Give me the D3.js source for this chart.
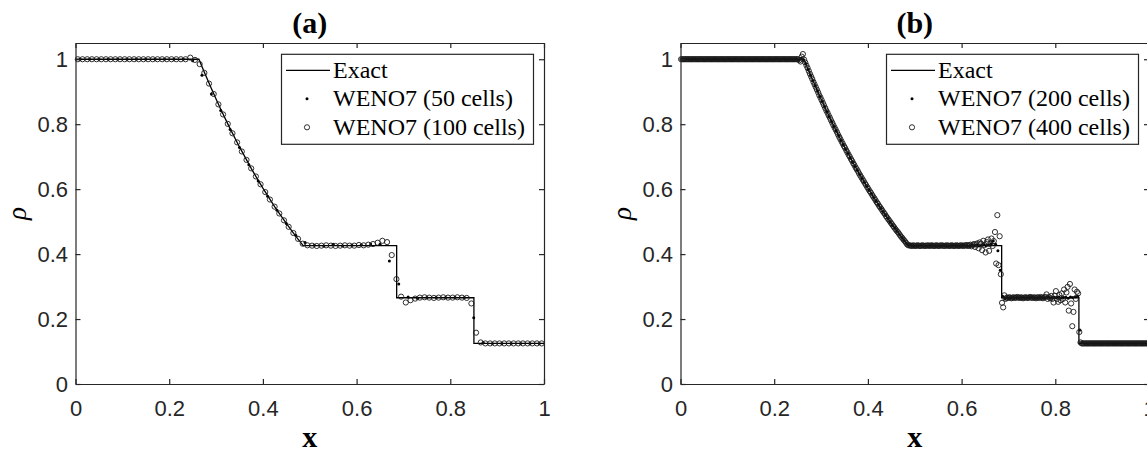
<!DOCTYPE html>
<html>
<head>
<meta charset="utf-8">
<script src="https://cdn.jsdelivr.net/npm/d3@7"></script>
<style>
  body { margin: 0; background: #fff; overflow: hidden; }
  svg { display: block; }
</style>
</head>
<body>
<svg width="1147" height="453"></svg>
<script>
// tick values
var xTicks = [0, 0.2, 0.4, 0.6, 0.8, 1];
var yTicks = [0, 0.2, 0.4, 0.6, 0.8, 1];

// exact solution (x, rho)
var exactX   = [0, 0.2634, 0.275, 0.29, 0.30, 0.31, 0.325, 0.33, 0.35, 0.375, 0.39, 0.40, 0.425, 0.43, 0.45, 0.47, 0.486, 0.6855, 0.6855, 0.8504, 0.8504, 1];
var exactRho = [1, 1, 0.9597, 0.9097, 0.8775, 0.8462, 0.8010, 0.7864, 0.7300, 0.6640, 0.6269, 0.6030, 0.5464, 0.5357, 0.4943, 0.4555, 0.4263, 0.4263, 0.2656, 0.2656, 0.125, 0.125];

// WENO7, 50 cells (cell centres)
var rho50 = [
  1,1,1,1,1,1,1,1,1,1,1,1,
  0.995,0.951,0.893,0.842,0.784,0.728,0.675,0.625,0.578,0.535,0.494,0.458,0.436,
  0.427,0.425,0.430,0.426,0.427,0.429,0.431,0.430,
  0.379,0.308,0.268,0.263,
  0.266,0.266,0.266,0.266,0.266,
  0.204,0.128,
  0.125,0.125,0.125,0.125,0.125,0.125
];

// WENO7, 100 cells
var rho100 = [
  1,1,1,1,1,1,1,1,1,1,1,1,1,1,1,1,1,1,1,1,1,1,1,1,
  1.005,0.998,0.985,0.958,0.925,0.893,0.861,0.830,0.801,0.772,0.744,0.716,0.690,
  0.664,0.639,0.615,0.591,0.568,0.546,0.525,0.504,0.484,0.465,0.447,0.432,0.427,
  0.426,0.425,0.426,0.427,0.426,0.425,0.426,0.427,0.426,0.426,0.428,0.427,0.429,0.431,
  0.435,0.441,0.437,0.397,0.323,0.269,0.251,0.258,0.263,
  0.266,0.267,0.266,0.265,0.266,0.267,0.266,0.266,0.267,0.266,0.265,
  0.248,0.158,0.128,
  0.125,0.125,0.125,0.125,0.125,0.125,0.125,0.125,0.125,0.125,0.125,0.125,0.125
];

// WENO7, 200 cells
var rho200 = [
  1,1,1,1,1,1,1,1,1,1,1,1,1,1,1,1,1,1,1,1,1,1,1,1,1,1,
  1,1,1,1,1,1,1,1,1,1,1,1,1,1,1,1,1,1,1,1,1,1,1,1,0.998,1.003,
  0.998,0.986,0.968,0.951,0.934,0.918,0.902,0.885,0.870,0.854,0.838,0.823,0.808,0.793,0.779,0.765,
  0.750,0.737,0.723,0.710,0.696,0.683,0.670,0.658,0.645,0.633,0.621,0.609,0.597,0.586,0.574,0.563,
  0.552,0.541,0.531,0.520,0.510,0.499,0.489,0.480,0.470,0.460,0.451,0.442,0.433,0.428,0.427,
  0.426,0.425,0.426,0.427,0.426,0.426,0.425,0.426,0.427,0.426,0.425,0.426,0.426,0.427,0.426,0.425,
  0.426,0.427,0.426,0.425,0.426,0.427,0.426,0.426,0.425,0.427,0.426,0.428,0.425,0.427,0.429,0.426,
  0.428,0.432,0.440,0.430,0.410,0.350,0.270,0.262,
  0.266,0.265,0.267,0.266,0.266,0.265,0.267,0.266,0.265,0.266,0.267,0.266,0.265,0.266,0.267,
  0.266,0.265,0.267,0.266,0.264,0.267,0.266,0.268,0.265,0.266,0.267,0.264,0.268,0.266,0.269,
  0.270,0.166,0.127,
  0.125,0.125,0.125,0.125,0.125,0.125,0.125,0.125,0.125,0.125,0.125,0.125,0.125,0.125,
  0.125,0.125,0.125,0.125,0.125,0.125,0.125,0.125,0.125,0.125,0.125,0.125,0.125,0.125
];

// WENO7, 400 cells
var rho400 = [
  1,1,1,1,1,1,1,1,1,1, 1,1,1,1,1,1,1,1,1,1, 1,1,1,1,1,1,1,1,1,1, 1,1,1,1,1,1,1,1,1,1,
  1,1,1,1,1,1,1,1,1,1, 1,1,1,1,1,1,1,1,1,1, 1,1,1,1,1,1,1,1,1,1, 1,1,1,1,1,1,1,1,1,1,
  1,1,1,1,1,1,1,1,1,1, 1,1,1,1,1,1,1,1,1,1,
  1,0.997,0.993,1.008,1.016,
  0.999,0.990,0.981,0.973,0.964,0.955,0.947,0.939,0.930,0.922,
  0.914,0.906,0.898,0.889,0.882,0.874,0.866,0.858,0.850,0.842,
  0.835,0.827,0.820,0.812,0.805,0.797,0.790,0.783,0.776,0.768,
  0.761,0.754,0.747,0.740,0.733,0.727,0.720,0.713,0.706,0.700,
  0.693,0.687,0.680,0.674,0.667,0.661,0.655,0.648,0.642,0.636,
  0.630,0.624,0.618,0.612,0.606,0.600,0.594,0.589,0.583,0.577,
  0.572,0.566,0.560,0.555,0.549,0.544,0.539,0.533,0.528,0.523,
  0.517,0.512,0.507,0.502,0.497,0.492,0.487,0.482,0.477,0.472,
  0.468,0.463,0.458,0.453,0.449,0.444,0.440,0.435,0.430,0.427,0.427,
  0.426,0.425,0.427,0.426,0.425,0.426,0.427,0.426,0.425,0.426,
  0.427,0.426,0.425,0.426,0.426,0.427,0.425,0.426,0.427,0.426,
  0.425,0.426,0.427,0.426,0.425,0.426,0.427,0.426,0.426,0.425,
  0.426,0.427,0.426,0.425,0.426,0.427,0.426,0.425,0.426,0.427,
  0.426,0.425,0.426,0.427,0.426,0.425,0.427,0.426,0.428,0.425,
  0.427,0.429,0.424,0.428,0.431,0.422,0.430,0.433,0.418,0.436,
  0.432,0.412,0.441,0.428,0.405,0.437,0.445,0.410,0.432,0.448,0.425,
  0.440,0.468,0.371,0.520,0.366,0.455,0.338,0.250,0.236,0.273,
  0.262,
  0.266,0.265,0.267,0.266,0.264,0.266,0.267,0.265,0.266,0.268,
  0.266,0.265,0.267,0.266,0.264,0.266,0.267,0.266,0.265,0.266,
  0.268,0.266,0.265,0.267,0.266,0.264,0.267,0.266,0.265,0.268,
  0.266,0.264,0.267,
  0.268,0.276,0.262,0.268,0.264,0.271,0.262,0.251,0.272,0.286,
  0.262,0.253,0.274,0.258,0.279,0.262,0.291,0.251,0.282,0.299,
  0.226,0.308,0.248,0.178,0.222,0.291,0.262,0.284,0.279,0.160,0.128,
  0.125,0.125,0.125,0.125,0.125,0.125,0.125,0.125,0.125,0.125,
  0.125,0.125,0.125,0.125,0.125,0.125,0.125,0.125,0.125,0.125,
  0.125,0.125,0.125,0.125,0.125,0.125,0.125,0.125,0.125,0.125,
  0.125,0.125,0.125,0.125,0.125,0.125,0.125,0.125,0.125,0.125,
  0.125,0.125,0.125,0.125,0.125,0.125,0.125,0.125,0.125,0.125,
  0.125,0.125,0.125,0.125,0.125,0.125,0.125,0.125
];

var panelTitles = ["(a)", "(b)"];
var legendA = ["Exact", "WENO7 (50 cells)", "WENO7 (100 cells)"];
var legendB = ["Exact", "WENO7 (200 cells)", "WENO7 (400 cells)"];

var svg = d3.select("svg"),
    margin = {top: 43, left: 75.5},
    panelStep = 605,
    width = 468.5,
    height = 341,
    axisColor = "#262626",
    sansFont = "'Liberation Sans', Arial, sans-serif",
    serifFont = "'Liberation Serif', 'Times New Roman', serif";

var x = d3.scaleLinear().domain([0, 1]).range([0, width]);
var y = d3.scaleLinear().domain([0, 1.05]).range([height, 0]);
var fmt = d3.format("~g");

// cell-centred points of a uniform grid
function cells(rho) {
  var n = rho.length;
  return rho.map(function(d, i) { return {x: (i + 0.5) / n, v: d}; });
}

var exactLine = d3.line()
    .x(function(d) { return x(d[0]); })
    .y(function(d) { return y(d[1]); });
var exactPts = exactX.map(function(d, i) { return [d, exactRho[i]]; });

function drawPanel(k, coarse, fine, labels) {
  var g = svg.append("g")
      .attr("transform", "translate(" + (margin.left + k * panelStep) + "," + margin.top + ")");

  // exact solution
  g.append("path")
      .datum(exactPts)
      .attr("d", exactLine)
      .attr("fill", "none")
      .attr("stroke", "#000")
      .attr("stroke-width", 1.3);

  g.append("g").selectAll("circle")
      .data(cells(coarse))
      .enter().append("circle")
      .attr("cx", function(d) { return x(d.x); })
      .attr("cy", function(d) { return y(d.v); })
      .attr("r", 1.5)
      .attr("fill", "#000");

  g.append("g").selectAll("circle")
      .data(cells(fine))
      .enter().append("circle")
      .attr("cx", function(d) { return x(d.x); })
      .attr("cy", function(d) { return y(d.v); })
      .attr("r", 2.6)
      .attr("fill", "none")
      .attr("stroke", "#1a1a1a")
      .attr("stroke-width", 0.9);

  // axes (box with inward ticks)
  var axB = g.append("g").attr("transform", "translate(0," + height + ")")
      .call(d3.axisBottom(x).tickValues(xTicks).tickFormat(fmt).tickSizeInner(-5).tickSizeOuter(0).tickPadding(16));
  var axL = g.append("g")
      .call(d3.axisLeft(y).tickValues(yTicks).tickFormat(fmt).tickSizeInner(-5).tickSizeOuter(0).tickPadding(7.5));
  var axT = g.append("g")
      .call(d3.axisTop(x).tickValues(xTicks).tickFormat("").tickSizeInner(-5).tickSizeOuter(0));
  var axR = g.append("g").attr("transform", "translate(" + width + ",0)")
      .call(d3.axisRight(y).tickValues(yTicks).tickFormat("").tickSizeInner(-5).tickSizeOuter(0));

  [axB, axL, axT, axR].forEach(function(a) {
    a.selectAll("path, line").attr("stroke", axisColor).attr("stroke-width", 1.2);
    a.selectAll("text").attr("fill", axisColor)
        .style("font-family", sansFont).style("font-size", "22px");
  });

  // title
  g.append("text")
      .attr("x", width / 2)
      .attr("y", -10)
      .attr("text-anchor", "middle")
      .style("font-family", serifFont)
      .style("font-weight", "bold")
      .style("font-size", "30px")
      .attr("fill", "#000")
      .text(panelTitles[k]);

  // x label
  g.append("text")
      .attr("x", width / 2)
      .attr("y", height + 62.5)
      .attr("text-anchor", "middle")
      .style("font-family", serifFont)
      .style("font-weight", "bold")
      .style("font-size", "30px")
      .attr("fill", "#000")
      .text("x");

  // y label
  g.append("text")
      .attr("transform", "translate(-50," + (height / 2) + ") rotate(-90)")
      .attr("text-anchor", "middle")
      .style("font-family", serifFont)
      .style("font-style", "italic")
      .style("font-size", "27px")
      .attr("fill", "#000")
      .text("ρ");

  // legend
  var lg = g.append("g").attr("transform", "translate(206,11.3)");
  lg.append("rect")
      .attr("width", 252)
      .attr("height", 90)
      .attr("fill", "#fff")
      .attr("stroke", axisColor)
      .attr("stroke-width", 1.2);

  var rowY = [16, 44.5, 73];
  lg.append("line")
      .attr("x1", 4.5).attr("x2", 48.5)
      .attr("y1", rowY[0]).attr("y2", rowY[0])
      .attr("stroke", "#000").attr("stroke-width", 1.3);
  lg.append("circle")
      .attr("cx", 25.5).attr("cy", rowY[1]).attr("r", 1.5).attr("fill", "#000");
  lg.append("circle")
      .attr("cx", 25.5).attr("cy", rowY[2]).attr("r", 2.6)
      .attr("fill", "none").attr("stroke", "#1a1a1a").attr("stroke-width", 0.9);

  lg.selectAll("text.leg")
      .data(labels)
      .enter().append("text")
      .attr("class", "leg")
      .attr("x", 51.5)
      .attr("y", function(d, i) { return rowY[i] + 7.5; })
      .style("font-family", serifFont)
      .style("font-size", "24px")
      .attr("fill", "#000")
      .text(function(d) { return d; });
}

drawPanel(0, rho50, rho100, legendA);
drawPanel(1, rho200, rho400, legendB);
</script>
</body>
</html>
